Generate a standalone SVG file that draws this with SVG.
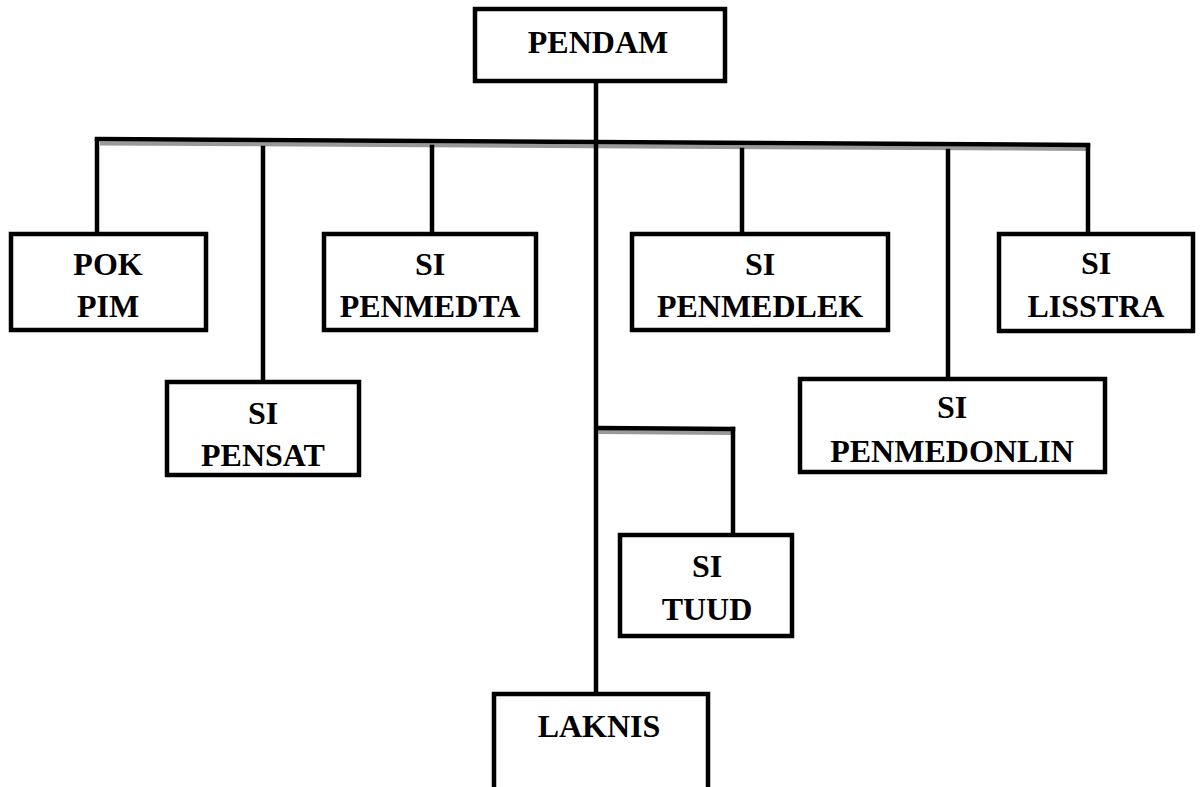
<svg xmlns="http://www.w3.org/2000/svg" width="1201" height="787" viewBox="0 0 1201 787">
<style>
.box{fill:#fff;stroke:#000;stroke-width:4.5}
.ln{stroke:#000;stroke-width:4.5;fill:none;stroke-linecap:square}
.sh{stroke:#999;stroke-width:4;fill:none}
text{font-family:"Liberation Serif","Times New Roman",serif;font-weight:bold;font-size:32px;text-anchor:middle;fill:#000}
</style>
<rect width="1201" height="787" fill="#fff"/>
<g id="connectors">
<line class="sh" x1="100" y1="143.5" x2="1090" y2="149"/>
<line class="ln" x1="97" y1="139" x2="1088" y2="145"/>
<line class="ln" x1="596" y1="83" x2="596" y2="690"/>
<line class="ln" x1="97" y1="141" x2="97" y2="232"/>
<line class="ln" x1="263" y1="148" x2="263" y2="380"/>
<line class="ln" x1="432" y1="147" x2="432" y2="232"/>
<line class="ln" x1="742" y1="150" x2="742" y2="232"/>
<line class="ln" x1="948" y1="151" x2="948" y2="376"/>
<line class="ln" x1="1088" y1="146" x2="1088" y2="232"/>
<line class="sh" x1="598" y1="432" x2="733" y2="433"/>
<line class="ln" x1="598" y1="428" x2="733" y2="429"/>
<line class="ln" x1="733" y1="429" x2="733" y2="532"/>
</g>
<g id="pendam"><rect class="box" x="475" y="9" width="250" height="72"/><text x="598" y="53">PENDAM</text></g>
<g id="pokpim"><rect class="box" x="11" y="234" width="195" height="96"/><text x="108" y="275">POK</text><text x="108" y="317">PIM</text></g>
<g id="sipensat"><rect class="box" x="167" y="382" width="192" height="93"/><text x="263" y="424">SI</text><text x="263" y="466">PENSAT</text></g>
<g id="sipenmedta"><rect class="box" x="324" y="234" width="212" height="96"/><text x="430" y="275">SI</text><text x="430" y="317">PENMEDTA</text></g>
<g id="sipenmedlek"><rect class="box" x="632" y="234" width="256" height="96"/><text x="760" y="275">SI</text><text x="760" y="317">PENMEDLEK</text></g>
<g id="silisstra"><rect class="box" x="999" y="234" width="194" height="97"/><text x="1096" y="274">SI</text><text x="1096" y="317">LISSTRA</text></g>
<g id="sipenmedonlin"><rect class="box" x="800" y="379" width="305" height="93"/><text x="952" y="418">SI</text><text x="952" y="462">PENMEDONLIN</text></g>
<g id="situud"><rect class="box" x="620" y="535" width="172" height="101"/><text x="707" y="577">SI</text><text x="707" y="620">TUUD</text></g>
<g id="laknis"><path class="box" d="M494,790 V694 H708 V790"/><text x="599" y="737">LAKNIS</text></g>
</svg>
